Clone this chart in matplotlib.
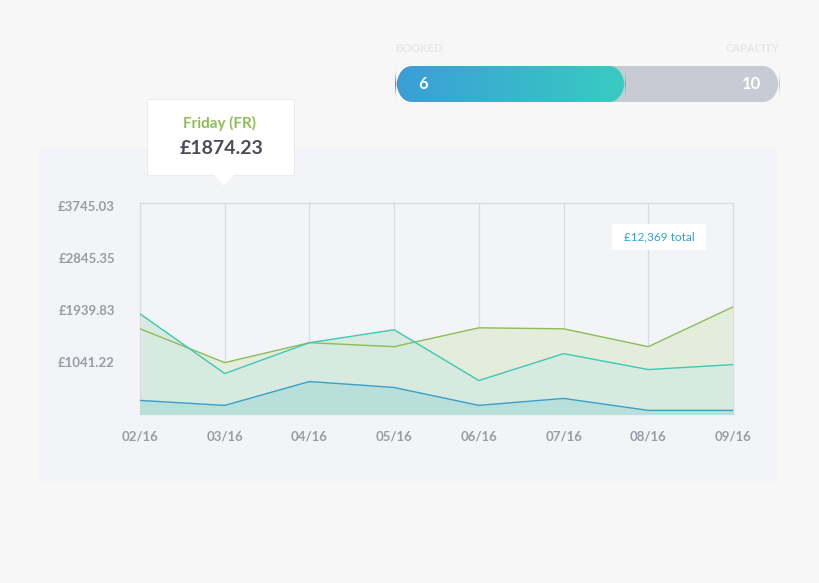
import matplotlib.pyplot as plt
import numpy as np
from matplotlib.patches import FancyBboxPatch, Rectangle, Polygon
from matplotlib.colors import LinearSegmentedColormap

plt.rcParams['font.family'] = ['Lato', 'DejaVu Sans']

dates = ['02/16', '03/16', '04/16', '05/16', '06/16', '07/16', '08/16', '09/16']
green = [1612, 1024, 1370, 1301, 1629, 1612, 1301, 1993]
teal = [1872, 834, 1370, 1595, 712, 1180, 903, 989]
blue = [366, 280, 695, 591, 280, 401, 193, 193]
yticks = [1041.22, 1939.83, 2845.35, 3745.03]
ylabels = ['£1041.22', '£1939.83', '£2845.35', '£3745.03']
booked, capacity = 6, 10

W, H = 820, 583
fig = plt.figure(figsize=(W / 100, H / 100), dpi=100, facecolor='#f7f7f8')

def fx(px): return px / W
def fy(py): return 1 - py / H

# card background
fig.patches.append(Rectangle((fx(38), fy(483)), fx(740), 335 / H, transform=fig.transFigure,
                             facecolor='#f3f4f8', edgecolor='none', zorder=-1))

ax = fig.add_axes([fx(140), fy(414), fx(593), 211 / H])
ax.set_facecolor('#f3f4f8')
x = np.arange(len(dates))
ax.fill_between(x, green, 130, color='#e4ecdc', zorder=1)
ax.fill_between(x, teal, 130, color='#d6eadf', zorder=2)
ax.fill_between(x, blue, 130, color='#b9dfda', zorder=3)
ax.plot(x, green, color='#8cbd56', lw=1, zorder=4)
ax.plot(x, teal, color='#3ccab6', lw=1, zorder=4)
ax.plot(x, blue, color='#3aa0c8', lw=1, zorder=4)
for xi in x:
    ax.axvline(xi, color='#d9dbe2', lw=0.9, zorder=0.5)
ax.set_xlim(0, 7)
ax.set_ylim(130, 3800)
ax.set_xticks(x)
ax.set_xticklabels(dates)
ax.set_yticks(yticks)
ax.set_yticklabels(ylabels)
ax.tick_params(length=0, labelsize=9.5, colors='#9a9ca6', pad=12)
for lab in ax.get_xticklabels() + ax.get_yticklabels():
    lab.set_fontweight('bold')
ax.tick_params(axis='y', pad=18)
for s in ax.spines.values():
    s.set_color('#d9dbe2')
    s.set_linewidth(0.9)

# total label
fig.patches.append(Rectangle((fx(612), fy(250)), fx(94), 26 / H, transform=fig.transFigure,
                             facecolor='white', edgecolor='none', zorder=5))
fig.text(fx(659), fy(237), '£12,369 total', ha='center', va='center', fontsize=8.5,
         color='#3aa0c8', zorder=6)

# tooltip
fig.patches.append(Rectangle((fx(147), fy(175)), fx(147), 76 / H, transform=fig.transFigure,
                             facecolor='white', edgecolor='#e6e6ea', lw=0.5, zorder=5))
fig.patches.append(Polygon([(fx(214), fy(175)), (fx(234), fy(175)), (fx(224), fy(186))],
                           transform=fig.transFigure, facecolor='white', edgecolor='none', zorder=5))
fig.text(fx(220), fy(123), 'Friday (FR)', ha='center', va='center', fontsize=11,
         color='#8cbd56', fontweight='bold', zorder=6)
fig.text(fx(222), fy(149), '£1874.23', ha='center', va='center', fontsize=14,
         color='#4a4d57', fontweight='bold', zorder=6)

# progress bar
bar = fig.add_axes([fx(395), fy(102), fx(385), 36 / H])
bar.set_xlim(0, capacity)
bar.set_ylim(0, 1)
bar.axis('off')
bar.add_patch(FancyBboxPatch((0, 0), capacity, 1, boxstyle='round,pad=0,rounding_size=0.45',
                             mutation_aspect=2.1, facecolor='#c8cbd3', edgecolor='none', zorder=1))
cmap = LinearSegmentedColormap.from_list('g', ['#3a9ed8', '#38ccc0'])
grad = np.linspace(0, 1, 200).reshape(1, -1)
im = bar.imshow(grad, cmap=cmap, extent=[0, booked, 0, 1], aspect='auto', zorder=2)
clip = FancyBboxPatch((0, 0), booked, 1, boxstyle='round,pad=0,rounding_size=0.45',
                      mutation_aspect=2.1, facecolor='none', edgecolor='none', transform=bar.transData)
im.set_clip_path(clip)
bar.set_xlim(0, capacity)
bar.set_ylim(0, 1)
bar.text(0.6, 0.5, str(booked), color='white', fontsize=12, fontweight='bold', va='center', zorder=3)
bar.text(capacity - 0.5, 0.5, str(capacity), color='white', fontsize=12, fontweight='bold',
         va='center', ha='right', zorder=3)
fig.text(fx(395), fy(49), 'BOOKED', fontsize=8, color='#e6e7ea', fontweight='bold', va='center')
fig.text(fx(780), fy(49), 'CAPACITY', fontsize=8, color='#e6e7ea', fontweight='bold',
         va='center', ha='right')

fig.savefig('out.png', dpi=100, facecolor=fig.get_facecolor())
